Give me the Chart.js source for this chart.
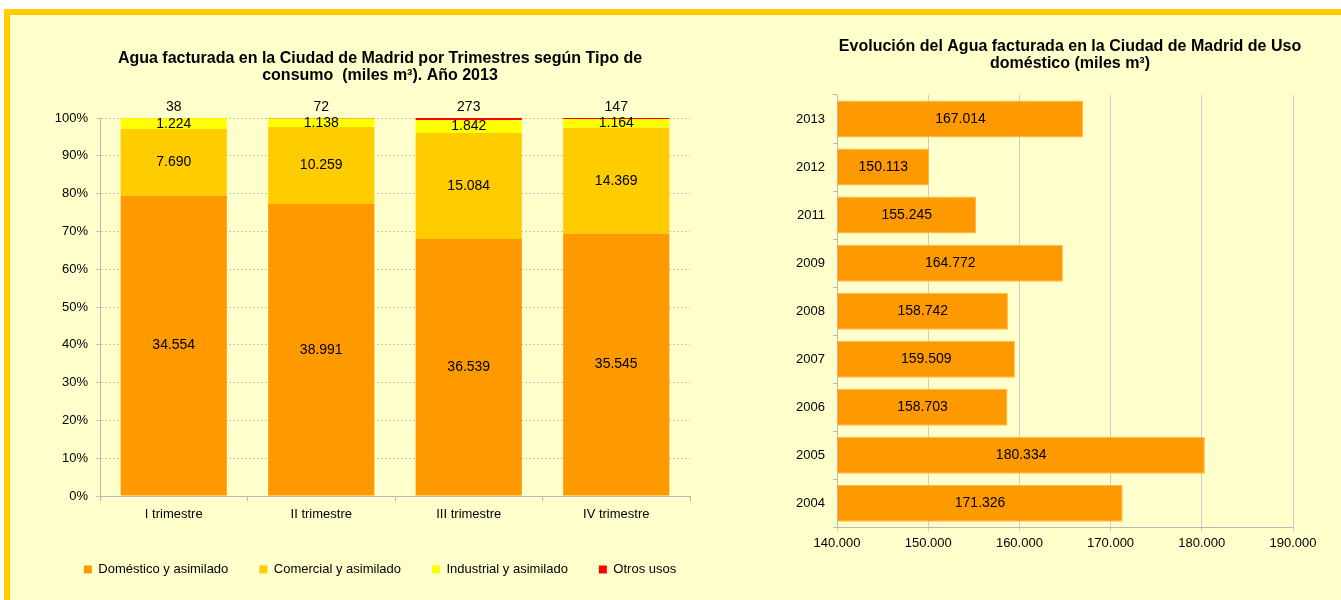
<!DOCTYPE html>
<html lang="es">
<head>
<meta charset="UTF-8">
<script src="https://cdn.jsdelivr.net/npm/chart.js"></script>
<title>Agua facturada en la Ciudad de Madrid</title>
<style>
  body { margin: 0; background: #fff; width: 1341px; height: 600px; overflow: hidden; position: relative; }
  #marco { position: absolute; left: 4px; top: 9px; right: 0; bottom: 0; background: #FFFFCC;
           border-top: 6px solid #FFCC00; border-left: 6px solid #FFCC00; }
  canvas { position: absolute; }
  #trim { left: 10px; top: 15px; }
  #evol { left: 760px; top: 15px; }
</style>
</head>
<body>
<div id="marco"></div>
<canvas id="trim" width="740" height="585"></canvas>
<canvas id="evol" width="590" height="585"></canvas>
<script>
// grafico 1: agua facturada por trimestre y tipo de consumo (miles m3), 2013
const trimestres = ['I trimestre', 'II trimestre', 'III trimestre', 'IV trimestre'];
const domestico  = [34554, 38991, 36539, 35545];
const comercial  = [7690, 10259, 15084, 14369];
const industrial = [1224, 1138, 1842, 1164];
const otros      = [38, 72, 273, 147];

// grafico 2: uso domestico por año (miles m3)
const anios = ['2013', '2012', '2011', '2009', '2008', '2007', '2006', '2005', '2004'];
const usoDomestico = [167014, 150113, 155245, 164772, 158742, 159509, 158703, 180334, 171326];

const FUENTE = '"Liberation Sans", Arial, sans-serif';
Chart.defaults.font.family = FUENTE;
Chart.defaults.font.size = 13;
Chart.defaults.color = '#000';

const EJE_MIN = 140000, EJE_MAX = 190000;
const TITULO = { size: 16, weight: 'bold', lineHeight: '17px' };

function miles(n) {
  return String(n).replace(/\B(?=(\d{3})+(?!\d))/g, '.');
}

const totales = trimestres.map((t, i) => domestico[i] + comercial[i] + industrial[i] + otros[i]);
const pct = arr => arr.map((v, i) => v / totales[i] * 100);

// etiquetas de valor dentro de las barras (o encima para "Otros usos")
const etiquetas = {
  id: 'etiquetas',
  afterDatasetsDraw(chart) {
    const ctx = chart.ctx;
    ctx.save();
    ctx.font = '14px ' + FUENTE;
    ctx.fillStyle = '#000';
    ctx.textAlign = 'center';
    ctx.textBaseline = 'middle';
    chart.data.datasets.forEach((ds, d) => {
      const vals = ds.valores || ds.data;
      chart.getDatasetMeta(d).data.forEach((bar, i) => {
        const txt = miles(vals[i]);
        const c = bar.getCenterPoint();
        if (ds.encima) ctx.fillText(txt, bar.x, bar.y - 11);
        else ctx.fillText(txt, c.x, c.y);
      });
    });
    ctx.restore();
  }
};

new Chart(document.getElementById('trim'), {
  type: 'bar',
  data: {
    labels: trimestres,
    datasets: [
      { label: 'Doméstico y asimilado', data: pct(domestico), valores: domestico, backgroundColor: '#FF9900' },
      { label: 'Comercial y asimilado', data: pct(comercial), valores: comercial, backgroundColor: '#FFCC00' },
      { label: 'Industrial y asimilado', data: pct(industrial), valores: industrial, backgroundColor: '#FFFF00' },
      { label: 'Otros usos', data: pct(otros), valores: otros, backgroundColor: '#FF0000', encima: true }
    ]
  },
  options: {
    responsive: false,
    animation: false,
    layout: { padding: { left: 30, right: 30, top: 0, bottom: 14 } },
    datasets: { bar: { categoryPercentage: 1, barPercentage: 0.72 } },
    plugins: {
      title: {
        display: true,
        text: ['Agua facturada en la Ciudad de Madrid por Trimestres según Tipo de', 'consumo  (miles m³). Año 2013'],
        font: TITULO,
        color: '#000',
        padding: { top: 35, bottom: 34 }
      },
      legend: {
        position: 'bottom',
        labels: { boxWidth: 8, boxHeight: 8, padding: 31, font: { size: 13 }, color: '#000' }
      },
      tooltip: { enabled: false }
    },
    scales: {
      x: {
        stacked: true,
        grid: { drawOnChartArea: false, tickLength: 5, color: '#b8b8b8' },
        border: { color: '#b8b8b8' },
        ticks: { padding: 6 },
        afterFit: s => { s.paddingRight = 60; s.height = 36; }
      },
      y: {
        stacked: true,
        min: 0, max: 100,
        grid: { tickLength: 4, color: '#c4c4c4' },
        border: { color: '#b8b8b8', dash: [2, 2] },
        ticks: { stepSize: 10, padding: 8, callback: v => v + '%' },
        afterFit: s => { s.width = 60; }
      }
    }
  },
  plugins: [etiquetas]
});

new Chart(document.getElementById('evol'), {
  type: 'bar',
  data: {
    labels: anios,
    datasets: [
      { label: 'Uso doméstico', data: usoDomestico, base: EJE_MIN,
        backgroundColor: '#FF9900', borderColor: '#FFB84D', borderWidth: 1 }
    ]
  },
  options: {
    indexAxis: 'y',
    responsive: false,
    animation: false,
    layout: { padding: { left: 30, right: 0, top: 0, bottom: 45 } },
    datasets: { bar: { categoryPercentage: 1, barPercentage: 0.77 } },
    plugins: {
      title: {
        display: true,
        text: ['Evolución del Agua facturada en la Ciudad de Madrid de Uso', 'doméstico (miles m³)'],
        font: TITULO,
        color: '#000',
        padding: { top: 23, bottom: 23 }
      },
      legend: { display: false },
      tooltip: { enabled: false }
    },
    scales: {
      x: {
        min: EJE_MIN, max: EJE_MAX,
        grid: { tickLength: 4, color: '#cccccc' },
        border: { color: '#b8b8b8' },
        ticks: { stepSize: 10000, padding: 4, callback: v => miles(v) },
        afterFit: s => { s.paddingRight = 57; }
      },
      y: {
        grid: { drawOnChartArea: false, tickLength: 4, color: '#b8b8b8' },
        border: { color: '#b8b8b8' },
        ticks: { padding: 8 },
        afterFit: s => { s.width = 47; }
      }
    }
  },
  plugins: [etiquetas]
});
</script>
</body>
</html>
